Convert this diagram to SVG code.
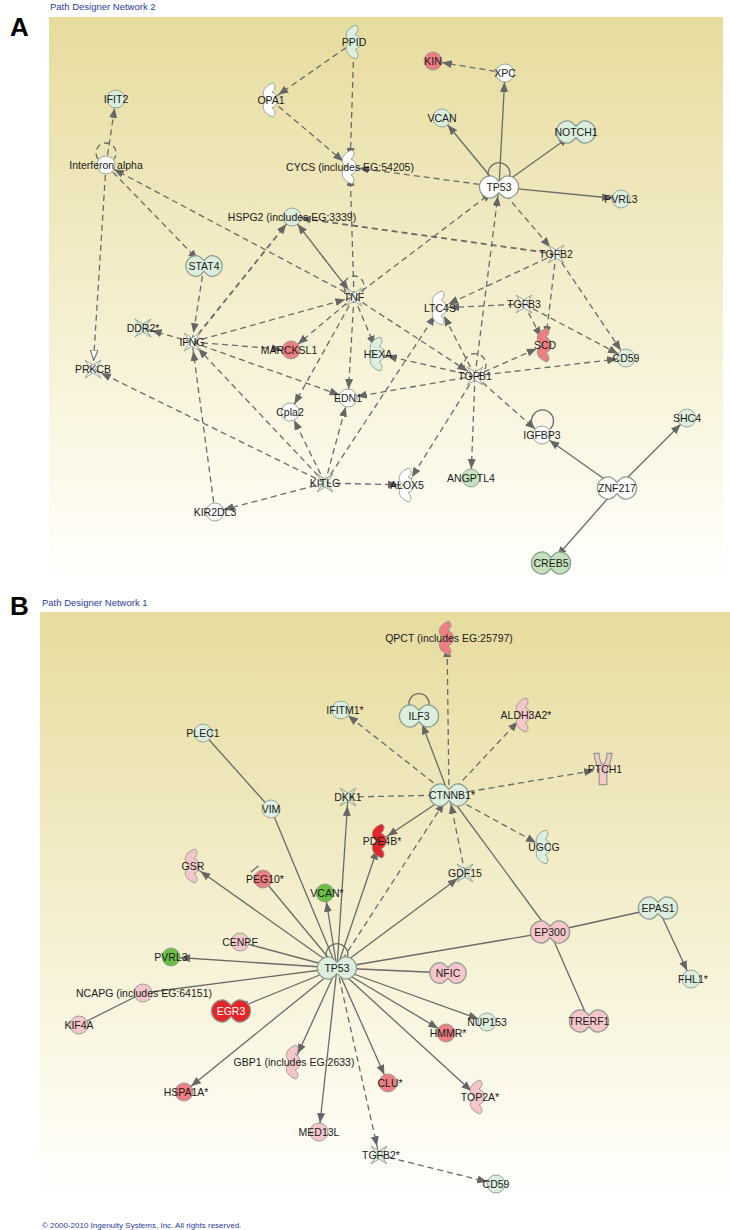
<svg xmlns="http://www.w3.org/2000/svg" xmlns:xlink="http://www.w3.org/1999/xlink" width="730" height="1230" viewBox="0 0 730 1230">
<style>
text{font-family:"Liberation Sans",Arial,sans-serif;font-size:10.5px;fill:#1a1a1a;text-anchor:middle;dominant-baseline:central}
.t{font-size:9.5px;fill:#2a3aa0;text-anchor:start}
.big{font-size:26px;font-weight:bold;fill:#000;text-anchor:start}
.s{stroke:#6a6a6a;stroke-width:1.3;fill:none}
.d{stroke:#6a6a6a;stroke-width:1.3;fill:none;stroke-dasharray:6,4}
.a{marker-end:url(#ar)}
.nd use,.nd circle,.nd path{stroke:#8d9c8f;stroke-width:0.9}
.w{fill:#ffffff}.g{fill:#dcefdf}.g2{fill:#c3e2bd}.gs{fill:#6cbf45}.p{fill:#f6c6ca}.r{fill:#ee7d84}.rs{fill:#e3262a}
</style>
<defs>
<linearGradient id="bgA" x1="0" y1="0" x2="0" y2="1"><stop offset="0" stop-color="#e7dc9e"/><stop offset="0.85" stop-color="#fdfbef"/><stop offset="1" stop-color="#ffffff"/></linearGradient>
<marker id="ar" markerWidth="11" markerHeight="9" refX="19" refY="4" orient="auto" markerUnits="userSpaceOnUse"><path d="M0,0 L10,4 L0,8 z" fill="#666"/></marker>
<marker id="ao" markerWidth="11" markerHeight="9" refX="19" refY="4" orient="auto" markerUnits="userSpaceOnUse"><path d="M0,0 L10,4 L0,8 z" fill="#fff" stroke="#666"/></marker>
<marker id="tee" markerWidth="4" markerHeight="10" refX="-12" refY="5" orient="auto" markerUnits="userSpaceOnUse"><path d="M1,0 L1,10" stroke="#666" stroke-width="1.3"/></marker>
<circle id="c" r="9"/>
<path id="db" d="M-6,-8 A8,8 0 0 0 -6,8 C-3,8 -1,5 0,4 C1,5 3,8 6,8 A8,8 0 0 0 6,-8 C3,-8 1,-5 0,-4 C-1,-5 -3,-8 -6,-8 z"/>
<path id="cr" d="M2,-17 C-10,-13 -10,-3 -3,0 C-10,3 -10,13 2,17 C6,14 3,9 1,8 C8,5 8,-5 1,-8 C3,-9 6,-14 2,-17 z"/>
<path id="x" d="M-8,-9 L-2,0 L-8,9 L0,4 L8,9 L2,0 L8,-9 L0,-4 z"/>
<path id="y" d="M-7,-12 C-6,-4 -4,-2 -3,0 L-3,12 L3,12 L3,0 C4,-2 6,-4 7,-12 L3,-12 C3,-6 1,-4 0,-3 C-1,-4 -3,-6 -3,-12 z"/>
</defs>
<rect width="730" height="1230" fill="#fff"/>
<rect x="49" y="17" width="674" height="573" fill="url(#bgA)"/>
<rect x="40" y="612" width="690" height="590" fill="url(#bgA)"/>
<text class="big" x="10" y="27">A</text>
<text class="t" x="50" y="6">Path Designer Network 2</text>
<text class="big" x="10" y="606">B</text>
<text class="t" x="42" y="602">Path Designer Network 1</text>
<text class="t" x="42" y="1225" style="font-size:8px">© 2000-2010 Ingenuity Systems, Inc. All rights reserved.</text>

<g id="connectors">
<line class="d a" x1="354" y1="42" x2="271" y2="100"/>
<line class="d a" x1="354" y1="42" x2="350" y2="167"/>
<line class="d a" x1="271" y1="100" x2="350" y2="167"/>
<line class="d a" x1="505" y1="73" x2="433" y2="61"/>
<line class="s a" x1="499" y1="187" x2="505" y2="73"/>
<line class="s a" x1="499" y1="187" x2="442" y2="118"/>
<line class="s a" x1="499" y1="187" x2="576" y2="132"/>
<line class="s a" x1="499" y1="187" x2="621" y2="199"/>
<path class="s" d="M490,180 A11,11 0 1 1 508,180"/>
<line class="d a" x1="499" y1="187" x2="350" y2="167"/>
<line class="d a" x1="499" y1="187" x2="556" y2="254"/>
<line class="d a" x1="354" y1="297" x2="499" y2="187"/>
<line class="d a" x1="475" y1="376" x2="499" y2="187"/>
<line class="d a" x1="106" y1="165" x2="116" y2="99"/>
<path class="d" d="M98,159 A10,10 0 1 1 114,159"/>
<line class="d a" x1="106" y1="165" x2="204" y2="266"/>
<line class="d" style="marker-end:url(#ao)" x1="106" y1="165" x2="93" y2="369"/>
<line class="d a" x1="354" y1="297" x2="106" y2="165"/>
<line class="d a" x1="354" y1="297" x2="350" y2="167"/>
<line class="d a" x1="354" y1="297" x2="292" y2="217"/>
<line class="d a" x1="292" y1="217" x2="354" y2="297"/>
<line class="d a" x1="556" y1="254" x2="292" y2="217" style="stroke-width:1.8"/>
<line class="d a" x1="192" y1="342" x2="292" y2="217" style="stroke-width:1.8"/>
<line class="d a" x1="204" y1="266" x2="192" y2="342"/>
<path class="d" d="M346,292 A10,10 0 1 1 362,292"/>
<line class="d a" x1="556" y1="254" x2="440" y2="308"/>
<line class="d a" x1="556" y1="254" x2="545" y2="345"/>
<line class="d a" x1="556" y1="254" x2="626" y2="358"/>
<line class="d a" x1="524" y1="304" x2="440" y2="308"/>
<line class="d a" x1="524" y1="304" x2="545" y2="345"/>
<line class="d a" x1="524" y1="304" x2="626" y2="358"/>
<line class="d a" x1="192" y1="342" x2="354" y2="297"/>
<line class="d a" x1="192" y1="342" x2="143" y2="328"/>
<line class="d a" x1="192" y1="342" x2="291" y2="350"/>
<line class="d a" x1="192" y1="342" x2="348" y2="398"/>
<line class="d a" x1="354" y1="297" x2="291" y2="350"/>
<line class="d a" x1="354" y1="297" x2="378" y2="354"/>
<line class="d a" x1="354" y1="297" x2="348" y2="398"/>
<line class="d a" x1="354" y1="297" x2="290" y2="412"/>
<line class="d a" x1="354" y1="297" x2="475" y2="376"/>
<line class="d a" x1="475" y1="376" x2="440" y2="308"/>
<line class="d a" x1="475" y1="376" x2="545" y2="345"/>
<line class="d a" x1="475" y1="376" x2="626" y2="358"/>
<line class="d a" x1="475" y1="376" x2="378" y2="354"/>
<line class="d a" x1="475" y1="376" x2="348" y2="398"/>
<line class="d a" x1="475" y1="376" x2="542" y2="435"/>
<line class="d a" x1="475" y1="376" x2="471" y2="478"/>
<line class="d a" x1="475" y1="376" x2="407" y2="485"/>
<path class="d" d="M466,371 A11,11 0 1 1 484,371"/>
<line class="d a" x1="325" y1="483" x2="192" y2="342"/>
<line class="d a" x1="325" y1="483" x2="93" y2="369"/>
<line class="d a" x1="325" y1="483" x2="290" y2="412"/>
<line class="d a" x1="325" y1="483" x2="348" y2="398"/>
<line class="d a" x1="325" y1="483" x2="440" y2="308"/>
<line class="d a" x1="325" y1="483" x2="407" y2="485"/>
<line class="d a" x1="325" y1="483" x2="215" y2="512"/>
<line class="d a" x1="215" y1="512" x2="192" y2="342"/>
<line class="s a" x1="617" y1="488" x2="542" y2="435"/>
<line class="s a" x1="617" y1="488" x2="687" y2="418"/>
<line class="s a" x1="617" y1="488" x2="551" y2="563"/>
<path class="s" d="M535,429 A11,11 0 1 1 550,429"/>
<line class="d a" x1="449" y1="795" x2="447" y2="638"/>
<line class="d a" x1="449" y1="795" x2="341" y2="710"/>
<line class="s a" x1="449" y1="795" x2="419" y2="716"/>
<path class="s" d="M410,708 A10,10 0 1 1 428,708"/>
<line class="d a" x1="449" y1="795" x2="524" y2="715"/>
<line class="d a" x1="449" y1="795" x2="603" y2="769"/>
<line class="d a" x1="348" y1="797" x2="449" y2="795"/>
<line class="s a" x1="449" y1="795" x2="380" y2="841"/>
<line class="d a" x1="449" y1="795" x2="544" y2="847"/>
<line class="d a" x1="465" y1="873" x2="449" y2="795"/>
<line class="d a" x1="337" y1="968" x2="449" y2="795"/>
<line class="s" x1="449" y1="795" x2="550" y2="932"/>
<line class="s" x1="203" y1="733" x2="271" y2="809"/>
<line class="s" x1="271" y1="809" x2="337" y2="968"/>
<line class="s a" x1="337" y1="968" x2="348" y2="797"/>
<line class="s a" x1="337" y1="968" x2="380" y2="841"/>
<line class="s a" x1="337" y1="968" x2="465" y2="873"/>
<line class="s a" x1="337" y1="968" x2="325" y2="893"/>
<line class="s a" x1="337" y1="968" x2="193" y2="866"/>
<line class="s" style="marker-end:url(#tee)" x1="337" y1="968" x2="263" y2="879"/>
<line class="s" x1="337" y1="968" x2="240" y2="942"/>
<line class="s a" x1="337" y1="968" x2="171" y2="957"/>
<line class="s" x1="337" y1="968" x2="143" y2="993"/>
<line class="s" x1="143" y1="993" x2="79" y2="1025"/>
<line class="s a" x1="337" y1="968" x2="231" y2="1011"/>
<line class="s a" x1="550" y1="932" x2="337" y2="968"/>
<line class="s a" x1="448" y1="973" x2="337" y2="968"/>
<line class="s" x1="550" y1="932" x2="658" y2="908"/>
<line class="s" x1="550" y1="932" x2="589" y2="1021"/>
<line class="s a" x1="658" y1="908" x2="691" y2="979"/>
<line class="s a" x1="337" y1="968" x2="487" y2="1022"/>
<line class="s a" x1="337" y1="968" x2="446" y2="1033"/>
<line class="s a" x1="337" y1="968" x2="294" y2="1062"/>
<line class="s a" x1="337" y1="968" x2="184" y2="1092"/>
<line class="s a" x1="337" y1="968" x2="388" y2="1083"/>
<line class="s a" x1="337" y1="968" x2="478" y2="1097"/>
<line class="s a" x1="337" y1="968" x2="319" y2="1132"/>
<line class="d a" x1="337" y1="968" x2="379" y2="1155"/>
<line class="d a" x1="379" y1="1155" x2="496" y2="1184"/>
<path class="s" d="M328,961 A11,11 0 1 1 346,961"/>
</g>

<g class="nd">
<g id="PPID"><use href="#cr" x="354" y="42" class="g"/><text x="354" y="42">PPID</text></g>
<g id="KIN"><use href="#c" x="433" y="61" class="r"/><text x="433" y="61">KIN</text></g>
<g id="XPC"><use href="#c" x="505" y="73" class="w"/><text x="505" y="73">XPC</text></g>
<g id="IFIT2"><use href="#c" x="116" y="99" class="g"/><text x="116" y="99">IFIT2</text></g>
<g id="OPA1"><use href="#cr" x="271" y="100" class="w"/><text x="271" y="100">OPA1</text></g>
<g id="VCAN_A"><use href="#c" x="442" y="118" class="g"/><text x="442" y="118">VCAN</text></g>
<g id="NOTCH1"><use href="#db" x="576" y="132" class="g" transform="translate(576,132) scale(1.4) translate(-576,-132)"/><text x="576" y="132">NOTCH1</text></g>
<g id="IFNa"><use href="#c" x="106" y="165" class="w"/><text x="106" y="165">Interferon alpha</text></g>
<g id="CYCS"><use href="#cr" x="350" y="167" class="w"/><text x="350" y="167">CYCS (includes EG:54205)</text></g>
<g id="TP53_A"><use href="#db" x="499" y="187" class="w" transform="translate(499,187) scale(1.4) translate(-499,-187)"/><text x="499" y="187">TP53</text></g>
<g id="PVRL3_A"><use href="#c" x="621" y="199" class="g"/><text x="621" y="199">PVRL3</text></g>
<g id="HSPG2"><use href="#c" x="292" y="217" class="g"/><text x="292" y="217">HSPG2 (includes EG:3339)</text></g>
<g id="STAT4"><use href="#db" x="204" y="266" class="g" transform="translate(204,266) scale(1.3) translate(-204,-266)"/><text x="204" y="266">STAT4</text></g>
<g id="TGFB2"><use href="#x" x="556" y="254" class="w"/><text x="556" y="254">TGFB2</text></g>
<g id="TNF"><use href="#x" x="354" y="297" class="w"/><text x="354" y="297">TNF</text></g>
<g id="LTC4S"><use href="#cr" x="440" y="308" class="w"/><text x="440" y="308">LTC4S</text></g>
<g id="TGFB3"><use href="#x" x="524" y="304" class="w"/><text x="524" y="304">TGFB3</text></g>
<g id="DDR2"><use href="#x" x="143" y="328" class="g"/><text x="143" y="328">DDR2*</text></g>
<g id="IFNG"><use href="#x" x="192" y="342" class="w"/><text x="192" y="342">IFNG</text></g>
<g id="MARCKSL1"><use href="#c" x="291" y="350" class="r"/><text x="289" y="350">MARCKSL1</text></g>
<g id="SCD"><use href="#cr" x="545" y="345" class="r"/><text x="545" y="345">SCD</text></g>
<g id="HEXA"><use href="#cr" x="378" y="354" class="g"/><text x="378" y="354">HEXA</text></g>
<g id="CD59_A"><use href="#c" x="626" y="358" class="g"/><text x="626" y="358">CD59</text></g>
<g id="PRKCB"><use href="#x" x="93" y="369" class="w"/><text x="93" y="369">PRKCB</text></g>
<g id="TGFB1"><use href="#x" x="475" y="376" class="w"/><text x="475" y="376">TGFB1</text></g>
<g id="EDN1"><use href="#c" x="348" y="398" class="w"/><text x="348" y="398">EDN1</text></g>
<g id="Cpla2"><use href="#c" x="290" y="412" class="w" style="stroke:#999"/><text x="290" y="412">Cpla2</text></g>
<g id="IGFBP3"><use href="#c" x="542" y="435" class="w"/><text x="542" y="435">IGFBP3</text></g>
<g id="SHC4"><use href="#c" x="687" y="418" class="g"/><text x="687" y="418">SHC4</text></g>
<g id="KITLG"><use href="#x" x="325" y="483" class="g"/><text x="325" y="483">KITLG</text></g>
<g id="ALOX5"><use href="#cr" x="407" y="485" class="w"/><text x="407" y="485">ALOX5</text></g>
<g id="ANGPTL4"><use href="#c" x="471" y="478" class="g2"/><text x="471" y="478">ANGPTL4</text></g>
<g id="ZNF217"><use href="#db" x="617" y="488" class="w" transform="translate(617,488) scale(1.4) translate(-617,-488)"/><text x="617" y="488">ZNF217</text></g>
<g id="KIR2DL3"><use href="#c" x="215" y="512" class="w"/><text x="215" y="512">KIR2DL3</text></g>
<g id="CREB5"><use href="#db" x="551" y="563" class="g2" transform="translate(551,563) scale(1.4) translate(-551,-563)"/><text x="551" y="563">CREB5</text></g>

<g id="QPCT"><use href="#cr" x="447" y="638" class="r"/><text x="449" y="638">QPCT (includes EG:25797)</text></g>
<g id="IFITM1"><use href="#c" x="341" y="710" class="g"/><text x="345" y="710">IFITM1*</text></g>
<g id="ILF3"><use href="#db" x="419" y="716" class="g" transform="translate(419,716) scale(1.4) translate(-419,-716)"/><text x="419" y="716">ILF3</text></g>
<g id="ALDH3A2"><use href="#cr" x="524" y="715" class="p"/><text x="526" y="715">ALDH3A2*</text></g>
<g id="PLEC1"><use href="#c" x="203" y="733" class="g"/><text x="203" y="733">PLEC1</text></g>
<g id="PTCH1"><use href="#y" x="603" y="769" class="p" transform="translate(603,769) scale(1.3) translate(-603,-769)"/><text x="605" y="769">PTCH1</text></g>
<g id="DKK1"><use href="#x" x="348" y="797" class="g"/><text x="348" y="797">DKK1</text></g>
<g id="CTNNB1"><use href="#db" x="449" y="795" class="g" transform="translate(449,795) scale(1.4) translate(-449,-795)"/><text x="452" y="795">CTNNB1*</text></g>
<g id="VIM"><use href="#c" x="271" y="809" class="g"/><text x="271" y="809">VIM</text></g>
<g id="PDE4B"><use href="#cr" x="380" y="841" class="rs"/><text x="382" y="841">PDE4B*</text></g>
<g id="UGCG"><use href="#cr" x="544" y="847" class="g"/><text x="544" y="847">UGCG</text></g>
<g id="GSR"><use href="#cr" x="193" y="866" class="p"/><text x="193" y="866">GSR</text></g>
<g id="PEG10"><use href="#c" x="263" y="879" class="r"/><text x="265" y="879">PEG10*</text></g>
<g id="GDF15"><use href="#x" x="465" y="873" class="g"/><text x="465" y="873">GDF15</text></g>
<g id="VCAN_B"><use href="#c" x="325" y="893" class="gs"/><text x="327" y="893">VCAN*</text></g>
<g id="EPAS1"><use href="#db" x="658" y="908" class="g" transform="translate(658,908) scale(1.4) translate(-658,-908)"/><text x="658" y="908">EPAS1</text></g>
<g id="EP300"><use href="#db" x="550" y="932" class="p" transform="translate(550,932) scale(1.4) translate(-550,-932)"/><text x="550" y="932">EP300</text></g>
<g id="CENPF"><use href="#c" x="240" y="942" class="p"/><text x="240" y="942">CENPF</text></g>
<g id="PVRL3_B"><use href="#c" x="171" y="957" class="gs"/><text x="171" y="957">PVRL3</text></g>
<g id="TP53_B"><use href="#db" x="337" y="968" class="g" transform="translate(337,968) scale(1.4) translate(-337,-968)"/><text x="337" y="968">TP53</text></g>
<g id="NFIC"><use href="#db" x="448" y="973" class="p" transform="translate(448,973) scale(1.3) translate(-448,-973)"/><text x="448" y="973">NFIC</text></g>
<g id="FHL1"><use href="#c" x="691" y="979" class="g"/><text x="693" y="979">FHL1*</text></g>
<g id="NCAPG"><use href="#c" x="143" y="993" class="p"/><text x="144" y="993">NCAPG (includes EG:64151)</text></g>
<g id="KIF4A"><use href="#c" x="79" y="1025" class="p"/><text x="79" y="1025">KIF4A</text></g>
<g id="EGR3"><use href="#db" x="231" y="1011" class="rs" transform="translate(231,1011) scale(1.4) translate(-231,-1011)"/><text x="231" y="1011" style="fill:#fff">EGR3</text></g>
<g id="NUP153"><use href="#c" x="487" y="1022" class="g"/><text x="487" y="1022">NUP153</text></g>
<g id="TRERF1"><use href="#db" x="589" y="1021" class="p" transform="translate(589,1021) scale(1.4) translate(-589,-1021)"/><text x="589" y="1021">TRERF1</text></g>
<g id="HMMR"><use href="#c" x="446" y="1033" class="r"/><text x="448" y="1033">HMMR*</text></g>
<g id="GBP1"><use href="#cr" x="294" y="1062" class="p"/><text x="294" y="1062">GBP1 (includes EG:2633)</text></g>
<g id="HSPA1A"><use href="#c" x="184" y="1092" class="r"/><text x="186" y="1092">HSPA1A*</text></g>
<g id="CLU"><use href="#c" x="388" y="1083" class="r"/><text x="390" y="1083">CLU*</text></g>
<g id="TOP2A"><use href="#cr" x="478" y="1097" class="p"/><text x="480" y="1097">TOP2A*</text></g>
<g id="MED13L"><use href="#c" x="319" y="1132" class="p"/><text x="319" y="1132">MED13L</text></g>
<g id="TGFB2B"><use href="#x" x="379" y="1155" class="g"/><text x="381" y="1155">TGFB2*</text></g>
<g id="CD59_B"><use href="#c" x="496" y="1184" class="g"/><text x="496" y="1184">CD59</text></g>
</g>
</svg>
